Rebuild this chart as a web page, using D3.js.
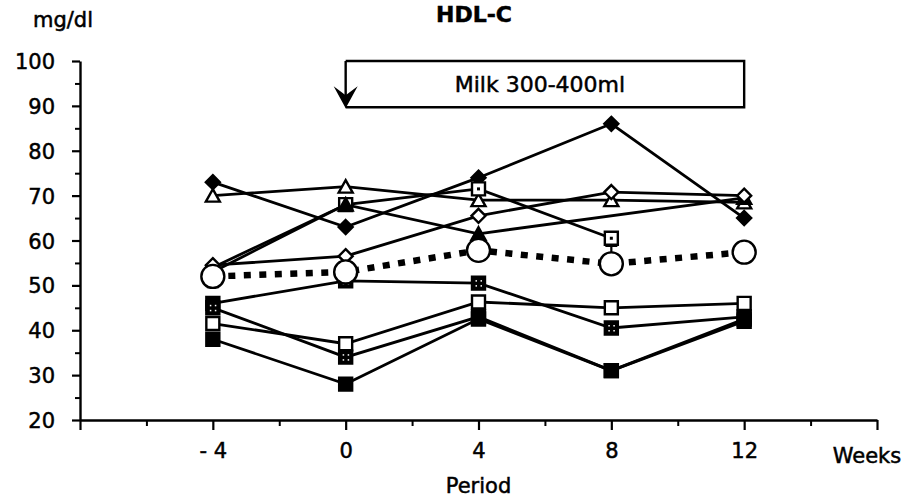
<!DOCTYPE html>
<html>
<head>
<meta charset="utf-8">
<script src="https://cdn.jsdelivr.net/npm/d3@7"></script>
<style>
  body { margin: 0; background: #fff; }
  svg { display: block; }
  text { font-family: "DejaVu Sans", sans-serif; fill: #000; stroke: #000; stroke-width: 0.5px; }
</style>
</head>
<body>
<div id="chart"></div>
<script>
// weeks of the study period
var weeks = [-4, 0, 4, 8, 12];

// HDL-C per subject, mg/dl (null = no point)
var subjFilledDiamond = [73, 63, 74, 86, 65];
var subjOpenTriangle = [70, 72, 69, 69, 68.5];
var subjDotSquare = [53, 68, 71.5, 60.5, null];
var subjFilledTriangle = [54, 68, 61.5, null, 69.5];
var subjOpenDiamond = [54.5, 56.5, 65.5, 70.8, 70];
var subjHatchA = [46, 51, 50.5, 40.5, 43];
var subjHatchB = [45, 34, 43, 31, 42.5];
var subjOpenSquare = [41.5, 37, 46.3, 45, 46];
var subjFilledSquare = [38, 28, 42.5, 31, 42];

// group mean and visible SE bar ends
var meanValues = [52, 53, 57.8, 54.8, 57.4];
var seLow = [49.6, 50.8, null, null, null];
var seHigh = [null, null, null, 58.8, null];

// axes
var yTicks = [20, 30, 40, 50, 60, 70, 80, 90, 100];
var yMinorTicks = [25, 35, 45, 55, 65, 75, 85, 95];
var xMajorTicks = [-8, -4, 0, 4, 8, 12, 16];
var xMinorTicks = [-6, -2, 2, 6, 10, 14];
var xLabels = {"-4": "- 4", "0": "0", "4": "4", "8": "8", "12": "12"};

// milk intake period
var milkStart = 0, milkEnd = 12;
var milkTop = 100, milkBottom = 89.7;
var milkText = "Milk 300-400ml";

var subjects = [
    {values: subjFilledDiamond, marker: "diamond", fill: "#000"},
    {values: subjOpenTriangle, marker: "triangle", fill: "#fff"},
    {values: subjDotSquare, marker: "dotsquare", fill: "#fff"},
    {values: subjFilledTriangle, marker: "triangle", fill: "#000"},
    {values: subjOpenDiamond, marker: "diamond", fill: "#fff"},
    {values: subjHatchA, marker: "hatchsquare", fill: "#000"},
    {values: subjHatchB, marker: "hatchsquare", fill: "#000"},
    {values: subjOpenSquare, marker: "square", fill: "#fff"},
    {values: subjFilledSquare, marker: "square", fill: "#000"},
];

var width = 918, height = 497;
var fontSize = "21px";

var x = d3.scaleLinear().domain([-8, 16]).range([80, 877]);
var y = d3.scaleLinear().domain([20, 100]).range([420, 61]);

var svg = d3.select("#chart").append("svg")
    .attr("width", width)
    .attr("height", height);

// y axis: minor ticks first, then major with labels
svg.append("g")
    .attr("transform", `translate(${x(-8)},0)`)
    .call(d3.axisLeft(y).tickValues(yMinorTicks).tickSize(5).tickFormat(""))
    .call(g => g.select(".domain").remove())
    .selectAll("line").attr("stroke-width", 2);

var yAxis = svg.append("g")
    .attr("transform", `translate(${x(-8)},0)`)
    .call(d3.axisLeft(y).tickValues(yTicks).tickSize(8).tickPadding(17).tickSizeOuter(0));
yAxis.select(".domain").attr("stroke-width", 2.4);
yAxis.selectAll("line").attr("stroke-width", 2.2);
yAxis.selectAll("text")
    .style("font-size", fontSize)
    .attr("dy", "0.36em");

// x axis
svg.append("g")
    .attr("transform", `translate(0,${y(20)})`)
    .call(d3.axisBottom(x).tickValues(xMinorTicks).tickSize(6).tickFormat(""))
    .call(g => g.select(".domain").remove())
    .selectAll("line").attr("stroke-width", 2);

var xAxis = svg.append("g")
    .attr("transform", `translate(0,${y(20)})`)
    .call(d3.axisBottom(x).tickValues(xMajorTicks).tickSize(10).tickPadding(13).tickSizeOuter(0)
        .tickFormat(d => xLabels[d] || ""));
xAxis.select(".domain").attr("stroke-width", 2.4);
xAxis.selectAll("line").attr("stroke-width", 2.2);
xAxis.selectAll("text").style("font-size", fontSize);

svg.append("text")
    .attr("x", x(16) - 10)
    .attr("y", y(20) + 43)
    .attr("text-anchor", "middle")
    .style("font-size", fontSize)
    .text("Weeks");

svg.append("text")
    .attr("x", x(4))
    .attr("y", y(20) + 73)
    .attr("text-anchor", "middle")
    .style("font-size", fontSize)
    .text("Period");

svg.append("text")
    .attr("x", 63)
    .attr("y", 27)
    .attr("text-anchor", "middle")
    .style("font-size", fontSize)
    .text("mg/dl");

svg.append("text")
    .attr("x", 474)
    .attr("y", 22)
    .attr("text-anchor", "middle")
    .style("font-size", "22px")
    .style("font-weight", "bold")
    .text("HDL-C");

// milk box with the arrow as its left side
var box = svg.append("g")
    .attr("fill", "none")
    .attr("stroke", "#000")
    .attr("stroke-width", 2.4);
box.append("path")
    .attr("d", `M${x(milkStart)},${y(milkTop)}H${x(milkEnd)}V${y(milkBottom)}H${x(milkStart)}`);
box.append("line")
    .attr("x1", x(milkStart)).attr("x2", x(milkStart))
    .attr("y1", y(milkTop)).attr("y2", y(milkBottom) - 6);
svg.append("path")
    .attr("fill", "#000")
    .attr("d", () => {
        var ax = x(milkStart), ay = y(milkBottom) + 1;
        return `M${ax},${ay}L${ax - 12},${ay - 22}L${ax},${ay - 13}L${ax + 12},${ay - 22}Z`;
    });
svg.append("text")
    .attr("x", (x(milkStart) + x(milkEnd)) / 2 - 5)
    .attr("y", (y(milkTop) + y(milkBottom)) / 2 + 8)
    .attr("text-anchor", "middle")
    .style("font-size", "22px")
    .text(milkText);

// subject lines, skipping missing weeks
var line = d3.line()
    .x(d => x(d.week))
    .y(d => y(d.value));

function points(values) {
    return values.map((v, i) => ({week: weeks[i], value: v}))
        .filter(d => d.value != null);
}

svg.append("g")
    .selectAll("path")
    .data(subjects)
    .join("path")
    .attr("fill", "none")
    .attr("stroke", "#000")
    .attr("stroke-width", 2.8)
    .attr("d", d => line(points(d.values)));

// mean line, thick dotted
svg.append("path")
    .attr("fill", "none")
    .attr("stroke", "#000")
    .attr("stroke-width", 6.5)
    .attr("stroke-dasharray", "7,8.5")
    .attr("d", line(points(meanValues)));

// markers
var markerPaths = {
    diamond: "M0,-7L7,0L0,7L-7,0Z",
    triangle: "M0,-6.5L7,6L-7,6Z",
    square: "M-6.5,-6.5H6.5V6.5H-6.5Z",
    dotsquare: "M-6.5,-6.5H6.5V6.5H-6.5Z",
    hatchsquare: "M-6.5,-6.5H6.5V6.5H-6.5Z",
};

subjects.forEach(s => {
    var g = svg.append("g")
        .selectAll("g")
        .data(points(s.values))
        .join("g")
        .attr("transform", d => `translate(${x(d.week)},${y(d.value)})`);
    g.append("path")
        .attr("d", markerPaths[s.marker])
        .attr("fill", s.fill)
        .attr("stroke", "#000")
        .attr("stroke-width", 2.4);
    if (s.marker == "dotsquare") {
        g.append("rect").attr("x", -1.5).attr("y", -1.5).attr("width", 3).attr("height", 3).attr("fill", "#000");
    }
    if (s.marker == "hatchsquare") {
        g.selectAll("rect")
            .data([[-3, -3], [2, -3], [-3, 2], [2, 2]])
            .join("rect")
            .attr("x", d => d[0]).attr("y", d => d[1])
            .attr("width", 1.5).attr("height", 1.5)
            .attr("fill", "#fff");
    }
});

// SE bars for the mean
var se = svg.append("g")
    .attr("stroke", "#000")
    .attr("stroke-width", 2.2);
weeks.forEach((w, i) => {
    [seLow[i], seHigh[i]].forEach(v => {
        if (v == null) return;
        se.append("line")
            .attr("x1", x(w)).attr("x2", x(w))
            .attr("y1", y(meanValues[i])).attr("y2", y(v));
        se.append("line")
            .attr("x1", x(w) - 6).attr("x2", x(w) + 6)
            .attr("y1", y(v)).attr("y2", y(v));
    });
});

svg.append("g")
    .selectAll("circle")
    .data(points(meanValues))
    .join("circle")
    .attr("cx", d => x(d.week))
    .attr("cy", d => y(d.value))
    .attr("r", 11.5)
    .attr("fill", "#fff")
    .attr("stroke", "#000")
    .attr("stroke-width", 2.4);
</script>
</body>
</html>
